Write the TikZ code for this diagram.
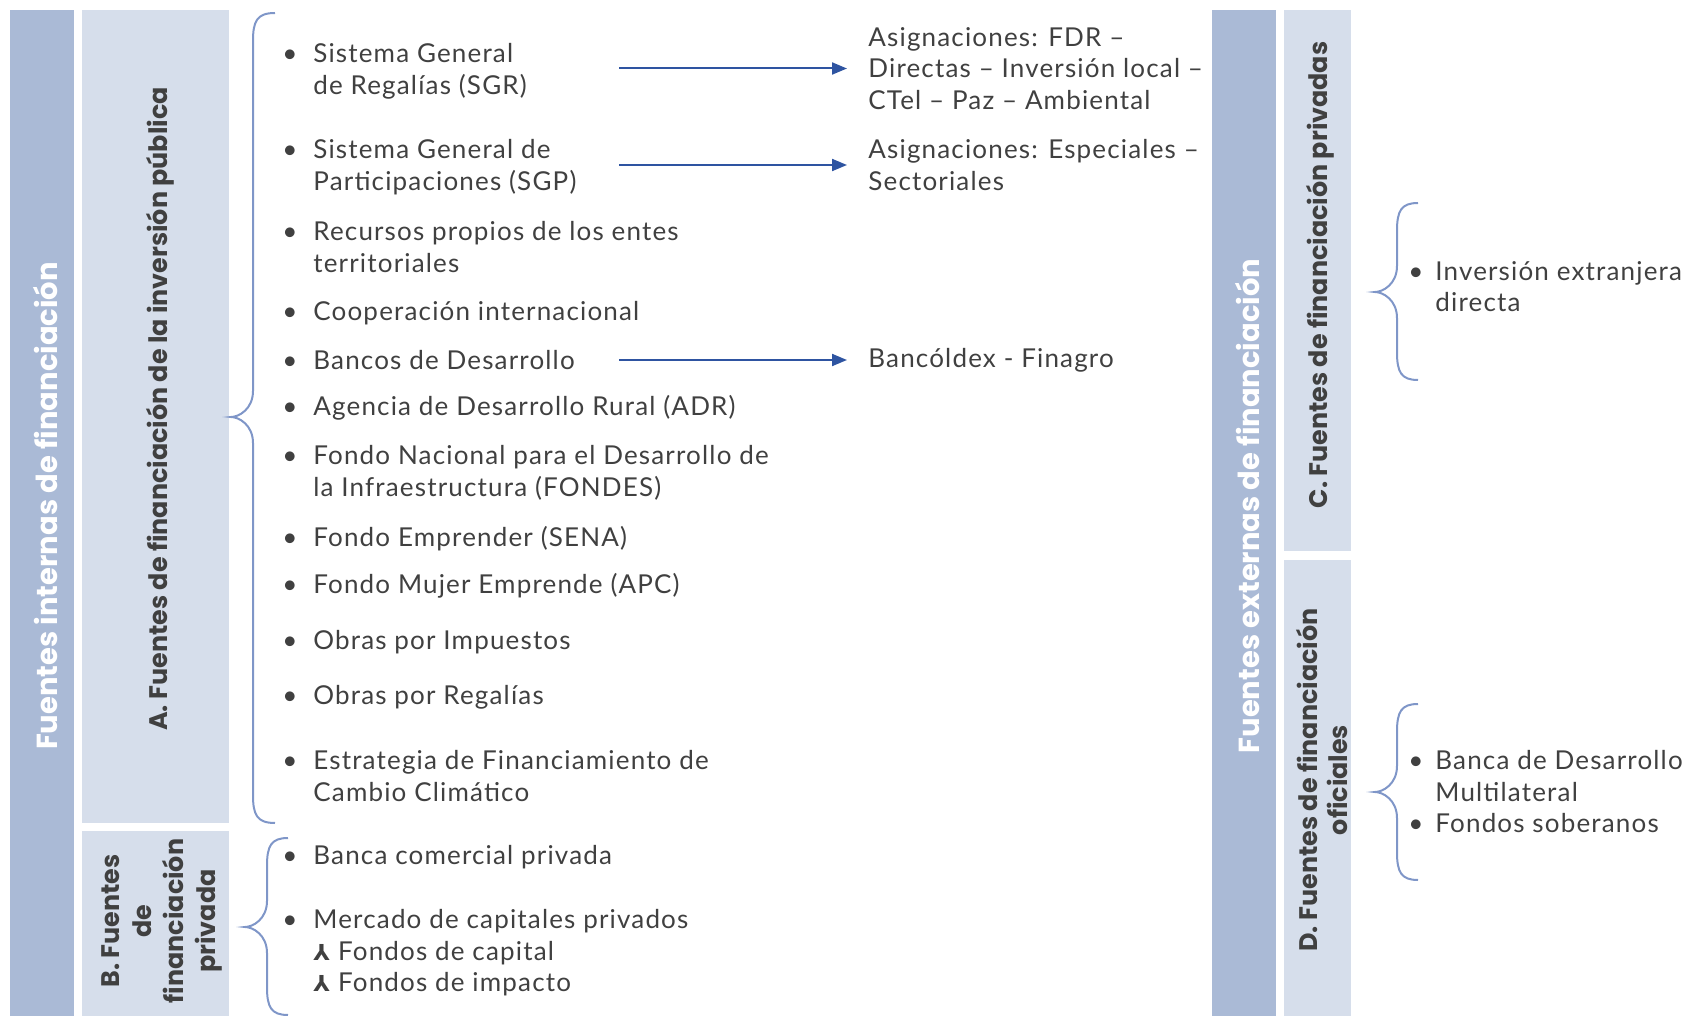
\documentclass[tikz,border=0pt]{standalone}
\usepackage{fontspec}
\setmainfont{Lato}[LetterSpace=4.5]
\newfontfamily\headfont{Poppins}
\newfontfamily\symfont{DejaVu Sans}
\usetikzlibrary{arrows.meta}
\definecolor{bardark}{HTML}{AABAD6}
\definecolor{barlight}{HTML}{D6DEEB}
\definecolor{bracecol}{HTML}{7F96C8}
\definecolor{arrowcol}{HTML}{2E54A1}
\definecolor{txtgray}{HTML}{404040}
\newcommand{\bul}[1][8pt]{\llap{\textbullet\hspace{#1}}}
\newcommand{\subbul}{{\symfont\bfseries\fontsize{11}{12}\selectfont ⅄}\hspace{4pt}}
\tikzset{
        outerbar/.style={fill=bardark},
        innerbar/.style={fill=barlight},
        outerlabel/.style={rotate=90, text=white, align=center,
                font=\headfont\bfseries\fontsize{14.5}{16}\selectfont},
        innerlabel/.style={rotate=90, text=txtgray, align=center,
                font=\headfont\bfseries\fontsize{12.7}{15}\selectfont},
        textbase/.style={anchor=west, align=left, inner sep=0pt, text=txtgray,
                font=\fontsize{13}{15.75}\selectfont},
        item/.style={textbase, yshift=-1pt},
        target/.style={textbase, inner xsep=10.5pt},
        flow/.style={draw=arrowcol, line width=1pt, -{Triangle[length=7.5pt,width=6pt]}},
        curly/.style={draw=bracecol, line width=1pt}
}

\begin{document}
\begin{tikzpicture}[x=0.5pt,y=-0.5pt]
        \useasboundingbox (0,0) rectangle (1694,1016);

        % left block
        \fill[outerbar] (10,10) rectangle (74,1016);
        \fill[innerbar] (82,10) rectangle (229,823);
        \fill[innerbar] (82,831) rectangle (229,1016);
        \node[outerlabel] (internas) at (46,506) {Fuentes internas de financiación};
        \node[innerlabel] (pubA) at (160,409) {A. Fuentes de financiación de la inversión pública};
        \node[innerlabel, font=\headfont\bfseries\fontsize{12.7}{16}\selectfont] (privB) at (162,921) {B. Fuentes\\de\\financiación\\privada};

        % right block
        \fill[outerbar] (1212,10) rectangle (1276,1016);
        \fill[innerbar] (1284,10) rectangle (1351,551);
        \fill[innerbar] (1284,560) rectangle (1351,1016);
        \node[outerlabel] (externas) at (1248,506) {Fuentes externas de financiación};
        \node[innerlabel] (privC) at (1320,275) {C. Fuentes de financiación privadas};
        \node[innerlabel] (ofiD) at (1322,780) {D. Fuentes de financiación\\oficiales};

        % braces
        \foreach \xe/\xv/\xt/\yt/\ym/\yb in {275/253/231/13/417/823, 288/267/245/838/927/1015,
                        1418/1397/1375/203/292/380, 1418/1397/1375/704/792/880} {
            \draw[curly] (\xe,\yt) .. controls ({\xv+4},\yt) and (\xv,{\yt+8}) .. (\xv,{\yt+28})
                -- (\xv,{\ym-26}) .. controls (\xv,{\ym-8}) and ({\xt+8},\ym) .. (\xt,\ym)
                .. controls ({\xt+8},\ym) and (\xv,{\ym+8}) .. (\xv,{\ym+26})
                -- (\xv,{\yb-28}) .. controls (\xv,{\yb-8}) and ({\xv+4},\yb) .. (\xe,\yb);
        }

        % A items
        \node[item] (sgr) at (313,69.5) {\bul Sistema General\\de Regalías (SGR)};
        \node[item] (sgp) at (313,165) {\bul Sistema General de\\Participaciones (SGP)};
        \node[item] (propios) at (313,245) {\bul Recursos propios de los entes\\territoriales};
        \node[item] (coop) at (313,311) {\bul Cooperación internacional};
        \node[item] (bancos) at (313,358) {\bul Bancos de Desarrollo};
        \node[item] (adr) at (313,406) {\bul Agencia de Desarrollo Rural (ADR)};
        \node[item] (fondes) at (313,471) {\bul Fondo Nacional para el Desarrollo de\\la Infraestructura (FONDES)};
        \node[item] (sena) at (313,537) {\bul Fondo Emprender (SENA)};
        \node[item] (apc) at (313,584) {\bul Fondo Mujer Emprende (APC)};
        \node[item] (impuestos) at (313,640) {\bul Obras por Impuestos};
        \node[item] (regalias) at (313,695) {\bul Obras por Regalías};
        \node[item] (clima) at (313,774) {\bul Estrategia de Financiamiento de\\Cambio Climático};

        % B items
        \node[item] (banca) at (313,855) {\bul Banca comercial privada};
        \node[item] (mercado) at (313,951) {\bul Mercado de capitales privados\\\subbul Fondos de capital\\\subbul Fondos de impacto};

        % targets of the arrows
        \node[target] (fdr) at (847,68.5) {Asignaciones: FDR –\\Directas – Inversión local –\\CTel – Paz – Ambiental};
        \node[target] (especiales) at (847,165) {Asignaciones: Especiales –\\Sectoriales};
        \node[target] (bancoldex) at (847,360) {Bancóldex - Finagro};

        \coordinate (fromsgr) at (619,68.5);
        \coordinate (fromsgp) at (619,165);
        \coordinate (frombancos) at (619,360);
        \draw[flow] (fromsgr) -- (fdr.west);
        \draw[flow] (fromsgp) -- (especiales.west);
        \draw[flow] (frombancos) -- (bancoldex.west);

        % C and D items
        \node[item] (ied) at (1435,284.5) {\bul[6pt]Inversión extranjera\\directa};
        \node[item] (multi) at (1435,790) {\bul[6pt]Banca de Desarrollo\\Multilateral\\\bul[6pt]Fondos soberanos};
\end{tikzpicture}
\end{document}
